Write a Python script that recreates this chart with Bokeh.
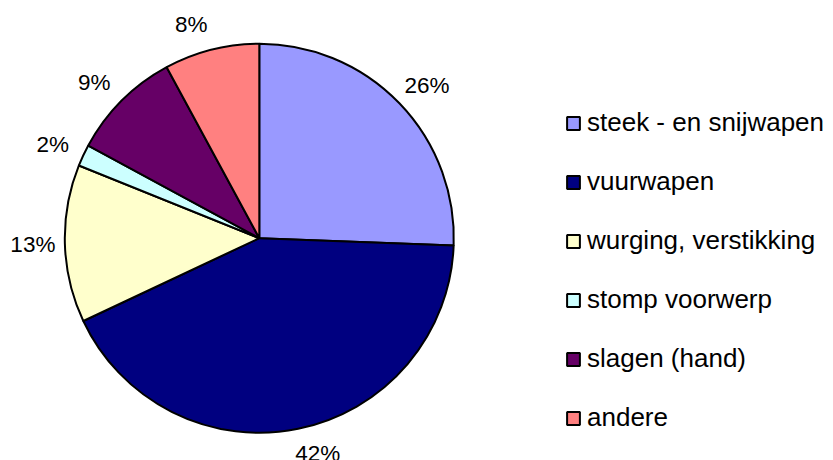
import numpy as np
from bokeh.plotting import figure
from bokeh.models import ColumnDataSource, Range1d, Legend, LegendItem
from bokeh.embed import file_html
from bokeh.resources import INLINE
from bokeh.core.properties import value

categories = ["steek - en snijwapen", "vuurwapen", "wurging, verstikking",
              "stomp voorwerp", "slagen (hand)", "andere"]
shares = [25.6, 42.4, 13.1, 1.8, 9.2, 7.9]
colors = ["#9999FF", "#000080", "#FFFFCC", "#CCFFFF", "#660066", "#FF8080"]

# layout constants (pixels in the plot frame)
W, H = 833, 460
CX, CY, R = 258.8, 460 - 237.7, 194.5
LABEL_R = 210          # radius of the label anchor
LABEL_DX = 16.5        # sideways push of labels away from the vertical axis
LABEL_DY = 10          # extra push along the vertical direction
LABEL_PX = 22.5
FONT = "Liberation Sans"

frac = np.array(shares) / sum(shares)
cum_end = np.cumsum(frac)
cum_start = cum_end - frac
start = np.pi / 2 - cum_end * 2 * np.pi
end = np.pi / 2 - cum_start * 2 * np.pi
mid = (start + end) / 2
ux, uy = np.cos(mid), np.sin(mid)
texts = [f"{round(s)}%" for s in shares]
lx = CX + LABEL_R * ux + LABEL_DX * np.sign(ux)
ly = CY + LABEL_R * uy + LABEL_DY * uy

src = ColumnDataSource(dict(cat=categories, start=start, end=end, color=colors))
lsrc = ColumnDataSource(dict(x=lx, y=ly, t=texts))

p = figure(width=W, height=H, x_range=Range1d(0, W), y_range=Range1d(0, H),
           output_backend="svg", toolbar_location=None, min_border=0,
           x_axis_location=None, y_axis_location=None)
p.grid.visible = False
p.outline_line_color = None
p.background_fill_color = "white"

r = p.wedge(x=CX, y=CY, radius=R, start_angle="start", end_angle="end",
            fill_color="color", line_color="black", line_width=2, source=src)

p.text(x="x", y="y", text="t", source=lsrc, text_align="center",
       text_baseline="middle", text_font=value(FONT),
       text_font_size=f"{LABEL_PX}px", text_color="black")

items = [LegendItem(label=c, renderers=[r], index=i) for i, c in enumerate(categories)]
legend = Legend(items=items, location=(565, 27), orientation="vertical",
                label_text_font=FONT, label_text_font_size="26px",
                label_text_color="black",
                glyph_width=16, glyph_height=16, label_height=30,
                label_standoff=6, spacing=28, padding=0, margin=0,
                border_line_color=None, background_fill_alpha=0)
p.add_layout(legend)

open("out.html", "w").write(file_html(p, INLINE))
